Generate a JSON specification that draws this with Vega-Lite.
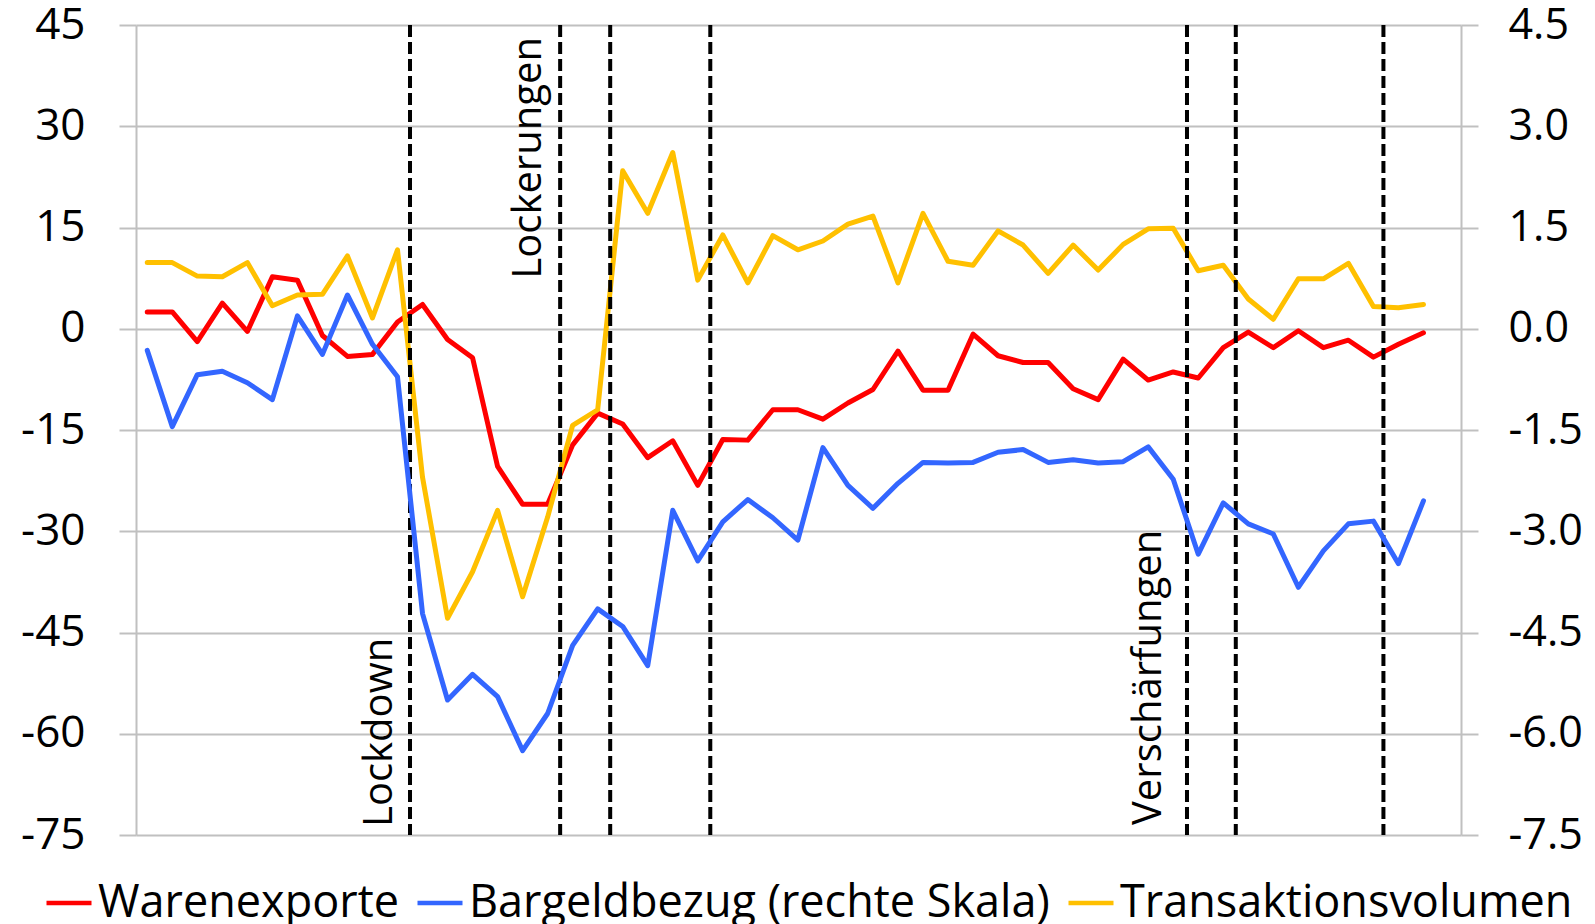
{
  "$schema": "https://vega.github.io/schema/vega-lite/v6.json",
  "width": 1325,
  "height": 810,
  "autosize": {"type": "none"},
  "padding": {"left": 136, "top": 25, "right": 134, "bottom": 89},
  "background": "white",
  "config": {"view": {"stroke": null}, "font": "Open Sans"},
  "datasets": {
    "series": [
      {"i": 0, "exporte": 2.5, "bargeld": -0.32, "transaktion": 9.8},
      {"i": 1, "exporte": 2.5, "bargeld": -1.45, "transaktion": 9.8},
      {"i": 2, "exporte": -1.9, "bargeld": -0.68, "transaktion": 7.8},
      {"i": 3, "exporte": 3.8, "bargeld": -0.63, "transaktion": 7.7},
      {"i": 4, "exporte": -0.4, "bargeld": -0.8, "transaktion": 9.8},
      {"i": 5, "exporte": 7.7, "bargeld": -1.05, "transaktion": 3.4},
      {"i": 6, "exporte": 7.2, "bargeld": 0.19, "transaktion": 5.0},
      {"i": 7, "exporte": -1.0, "bargeld": -0.38, "transaktion": 5.1},
      {"i": 8, "exporte": -4.1, "bargeld": 0.5, "transaktion": 10.8},
      {"i": 9, "exporte": -3.8, "bargeld": -0.23, "transaktion": 1.6},
      {"i": 10, "exporte": 1.0, "bargeld": -0.71, "transaktion": 11.7},
      {"i": 11, "exporte": 3.6, "bargeld": -4.22, "transaktion": -22.0},
      {"i": 12, "exporte": -1.6, "bargeld": -5.5, "transaktion": -42.9},
      {"i": 13, "exporte": -4.3, "bargeld": -5.12, "transaktion": -36.0},
      {"i": 14, "exporte": -20.4, "bargeld": -5.45, "transaktion": -26.9},
      {"i": 15, "exporte": -26.0, "bargeld": -6.25, "transaktion": -39.7},
      {"i": 16, "exporte": -26.0, "bargeld": -5.7, "transaktion": -27.9},
      {"i": 17, "exporte": -17.2, "bargeld": -4.69, "transaktion": -14.3},
      {"i": 18, "exporte": -12.5, "bargeld": -4.15, "transaktion": -12.0},
      {"i": 19, "exporte": -14.1, "bargeld": -4.41, "transaktion": 23.4},
      {"i": 20, "exporte": -19.1, "bargeld": -4.99, "transaktion": 17.1},
      {"i": 21, "exporte": -16.6, "bargeld": -2.69, "transaktion": 26.1},
      {"i": 22, "exporte": -23.2, "bargeld": -3.44, "transaktion": 7.2},
      {"i": 23, "exporte": -16.4, "bargeld": -2.86, "transaktion": 13.9},
      {"i": 24, "exporte": -16.5, "bargeld": -2.53, "transaktion": 6.8},
      {"i": 25, "exporte": -12.0, "bargeld": -2.8, "transaktion": 13.8},
      {"i": 26, "exporte": -12.0, "bargeld": -3.13, "transaktion": 11.7},
      {"i": 27, "exporte": -13.4, "bargeld": -1.76, "transaktion": 13.0},
      {"i": 28, "exporte": -11.0, "bargeld": -2.32, "transaktion": 15.5},
      {"i": 29, "exporte": -9.0, "bargeld": -2.66, "transaktion": 16.7},
      {"i": 30, "exporte": -3.3, "bargeld": -2.29, "transaktion": 6.8},
      {"i": 31, "exporte": -9.1, "bargeld": -1.98, "transaktion": 17.1},
      {"i": 32, "exporte": -9.1, "bargeld": -1.99, "transaktion": 10.0},
      {"i": 33, "exporte": -0.8, "bargeld": -1.98, "transaktion": 9.4},
      {"i": 34, "exporte": -4.0, "bargeld": -1.83, "transaktion": 14.5},
      {"i": 35, "exporte": -5.0, "bargeld": -1.79, "transaktion": 12.4},
      {"i": 36, "exporte": -5.0, "bargeld": -1.98, "transaktion": 8.2},
      {"i": 37, "exporte": -8.9, "bargeld": -1.94, "transaktion": 12.4},
      {"i": 38, "exporte": -10.5, "bargeld": -1.99, "transaktion": 8.7},
      {"i": 39, "exporte": -4.5, "bargeld": -1.97, "transaktion": 12.5},
      {"i": 40, "exporte": -7.6, "bargeld": -1.75, "transaktion": 14.8},
      {"i": 41, "exporte": -6.4, "bargeld": -2.23, "transaktion": 14.9},
      {"i": 42, "exporte": -7.3, "bargeld": -3.34, "transaktion": 8.6},
      {"i": 43, "exporte": -2.8, "bargeld": -2.58, "transaktion": 9.4},
      {"i": 44, "exporte": -0.5, "bargeld": -2.89, "transaktion": 4.4},
      {"i": 45, "exporte": -2.8, "bargeld": -3.04, "transaktion": 1.4},
      {"i": 46, "exporte": -0.3, "bargeld": -3.83, "transaktion": 7.4},
      {"i": 47, "exporte": -2.8, "bargeld": -3.29, "transaktion": 7.4},
      {"i": 48, "exporte": -1.7, "bargeld": -2.89, "transaktion": 9.7},
      {"i": 49, "exporte": -4.2, "bargeld": -2.85, "transaktion": 3.3},
      {"i": 50, "exporte": -2.3, "bargeld": -3.48, "transaktion": 3.1},
      {"i": 51, "exporte": -0.6, "bargeld": -2.55, "transaktion": 3.6}
    ],
    "events": [
      {"t": 10.5, "label": "Lockdown"},
      {"t": 16.5, "label": "Lockerungen"},
      {"t": 18.5, "label": ""},
      {"t": 22.5, "label": ""},
      {"t": 41.55, "label": "Verschärfungen"},
      {"t": 43.5, "label": ""},
      {"t": 49.4, "label": ""}
    ]
  },
  "layer": [
    {
      "layer": [
        {
          "data": {"name": "series"},
          "mark": {"type": "line", "strokeWidth": 5, "strokeJoin": "round", "strokeCap": "round"},
          "encoding": {
            "x": {"field": "i", "type": "quantitative", "axis": null, "scale": {"domain": [-0.45, 52.5], "nice": false, "zero": false}},
            "y": {
              "field": "exporte", "type": "quantitative", "title": null,
              "scale": {"domain": [-75, 45], "nice": false, "zero": false},
              "axis": {
                "orient": "left",
                "values": [-75, -60, -45, -30, -15, 0, 15, 30, 45],
                "labelExpr": "replace(format(datum.value, 'd'), '\u2212', '-')",
                "grid": true, "gridColor": "#C0C0C0", "gridWidth": 2,
                "domain": true, "domainColor": "#C0C0C0", "domainWidth": 2,
                "ticks": true, "tickColor": "#C0C0C0", "tickWidth": 2, "tickSize": 17,
                "labelFont": "Open Sans", "labelFontSize": 44, "labelColor": "#000000",
                "labelPadding": 34, "labelBaseline": "middle", "labelBound": false, "labelOverlap": false
              }
            },
            "color": {
              "datum": "Warenexporte",
              "scale": {
                "domain": ["Warenexporte", "Bargeldbezug (rechte Skala)", "Transaktionsvolumen"],
                "range": ["#FF0000", "#3366FF", "#FFC000"]
              },
              "legend": {
                "title": null, "orient": "none", "direction": "horizontal",
                "legendX": -92, "legendY": 853, "padding": 0,
                "symbolType": "stroke", "symbolSize": 2025, "symbolStrokeWidth": 4.5,
                "labelFont": "Open Sans", "labelFontSize": 45, "labelColor": "#000000",
                "labelOffset": 4, "columnPadding": 9, "labelLimit": 1000
              }
            }
          }
        },
        {
          "data": {"name": "series"},
          "mark": {"type": "line", "strokeWidth": 5, "strokeJoin": "round", "strokeCap": "round"},
          "encoding": {
            "x": {"field": "i", "type": "quantitative"},
            "y": {"field": "transaktion", "type": "quantitative", "title": null},
            "color": {"datum": "Transaktionsvolumen"}
          }
        },
        {
          "data": {"name": "events"},
          "mark": {"type": "rule", "color": "#000000", "strokeWidth": 4, "strokeDash": [12, 5]},
          "encoding": {
            "x": {"field": "t", "type": "quantitative"}
          }
        },
        {
          "data": {"name": "events"},
          "transform": [{"filter": "datum.label == 'Lockdown'"}],
          "mark": {"type": "text", "angle": 270, "align": "left", "baseline": "alphabetic", "dx": 8, "dy": -18, "font": "Open Sans", "fontSize": 40, "color": "#000000"},
          "encoding": {
            "x": {"field": "t", "type": "quantitative"},
            "y": {"datum": -75},
            "text": {"field": "label"}
          }
        },
        {
          "data": {"name": "events"},
          "transform": [{"filter": "datum.label == 'Lockerungen'"}],
          "mark": {"type": "text", "angle": 270, "align": "right", "baseline": "alphabetic", "dx": -12, "dy": -19, "font": "Open Sans", "fontSize": 40, "color": "#000000"},
          "encoding": {
            "x": {"field": "t", "type": "quantitative"},
            "y": {"datum": 45},
            "text": {"field": "label"}
          }
        },
        {
          "data": {"name": "events"},
          "transform": [{"filter": "datum.label == 'Verschärfungen'"}],
          "mark": {"type": "text", "angle": 270, "align": "left", "baseline": "alphabetic", "dx": 10, "dy": -26, "font": "Open Sans", "fontSize": 40, "color": "#000000"},
          "encoding": {
            "x": {"field": "t", "type": "quantitative"},
            "y": {"datum": -75},
            "text": {"field": "label"}
          }
        }
      ]
    },
    {
      "data": {"name": "series"},
      "mark": {"type": "line", "strokeWidth": 5, "strokeJoin": "round", "strokeCap": "round"},
      "encoding": {
        "x": {"field": "i", "type": "quantitative"},
        "y": {
          "field": "bargeld", "type": "quantitative", "title": null,
          "scale": {"domain": [-7.5, 4.5], "nice": false, "zero": false},
          "axis": {
            "orient": "right",
            "values": [-7.5, -6, -4.5, -3, -1.5, 0, 1.5, 3, 4.5],
            "labelExpr": "replace(format(datum.value, '.1f'), '\u2212', '-')",
            "grid": false,
            "domain": true, "domainColor": "#C0C0C0", "domainWidth": 2,
            "ticks": true, "tickColor": "#C0C0C0", "tickWidth": 2, "tickSize": 17,
            "labelFont": "Open Sans", "labelFontSize": 43, "labelColor": "#000000",
            "labelPadding": 30, "labelBaseline": "middle", "labelBound": false, "labelOverlap": false
          }
        },
        "color": {"datum": "Bargeldbezug (rechte Skala)"}
      }
    }
  ],
  "resolve": {"scale": {"y": "independent"}}
}
